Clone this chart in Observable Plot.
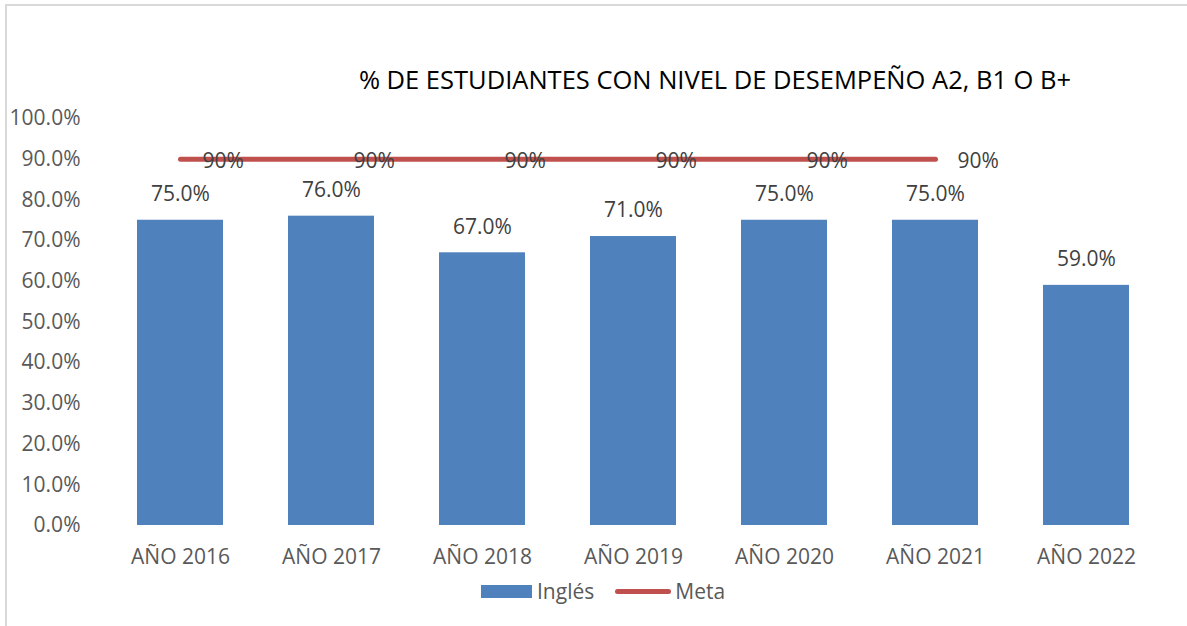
<!DOCTYPE html>
<html>
<head>
<meta charset="utf-8">
<script src="https://cdn.jsdelivr.net/npm/d3@7"></script>
<script src="https://cdn.jsdelivr.net/npm/@observablehq/plot@0.6"></script>
<style>
  html, body { margin: 0; padding: 0; background: #fff; }
  body { width: 1187px; height: 626px; position: relative; overflow: hidden; font-family: "Open Sans", "Liberation Sans", sans-serif; }
  #frame { position: absolute; left: 5px; top: 4px; width: 1300px; height: 700px; border-left: 2px solid #d9d9d9; border-top: 2px solid #d9d9d9; }
  #title { position: absolute; left: 0; width: 1430px; top: 62px; text-align: center; font-size: 25.5px; color: #000; white-space: nowrap; }
  #chart { position: absolute; left: 0; top: 0; }
  #legend { position: absolute; top: 577px; left: 481px; display: flex; align-items: center; font-size: 21px; color: #595959; }
  .sw-bar { width: 51px; height: 13px; background: #4F81BD; margin-right: 5px; }
  .sw-line { width: 56px; height: 5px; border-radius: 3px; background: #C0504D; margin-left: 21px; margin-right: 4px; }
</style>
</head>
<body>
<div id="frame"></div>
<div id="chart"></div>
<div id="title">% DE ESTUDIANTES CON NIVEL DE DESEMPEÑO A2, B1 O B+</div>
<div id="legend"><div class="sw-bar"></div><span>Inglés</span><div class="sw-line"></div><span>Meta</span></div>
<script>
const years = ["AÑO 2016", "AÑO 2017", "AÑO 2018", "AÑO 2019", "AÑO 2020", "AÑO 2021", "AÑO 2022"];
const ingles = [75, 76, 67, 71, 75, 75, 59];
const metaYears = ["AÑO 2016", "AÑO 2017", "AÑO 2018", "AÑO 2019", "AÑO 2020", "AÑO 2021"];
const meta = [90, 90, 90, 90, 90, 90];
const yTicks = [0, 10, 20, 30, 40, 50, 60, 70, 80, 90, 100];

const bars = years.map((y, i) => ({year: y, value: ingles[i]}));
const metaData = metaYears.map((y, i) => ({year: y, value: meta[i]}));

const font = "'Open Sans', 'Liberation Sans', sans-serif";
const chart = Plot.plot({
  width: 1187,
  height: 626,
  marginTop: 118,
  marginBottom: 101,
  marginLeft: 102,
  marginRight: 23,
  style: {fontFamily: font, fontSize: "21px", color: "#595959", background: "transparent"},
  x: {domain: years, paddingInner: 0.43, paddingOuter: 0.215, label: null},
  y: {domain: [0, 100], label: null},
  marks: [
    Plot.axisY({ticks: yTicks, tickSize: 0, tickPadding: 22, tickFormat: d => d.toFixed(1) + "%", fontSize: 21, fill: "#595959", label: null}),
    Plot.axisX({tickSize: 0, tickPadding: 24, fontSize: 21, fill: "#595959", label: null}),
    Plot.barY(bars, {x: "year", y: "value", fill: "#4F81BD"}),
    Plot.text(bars, {x: "year", y: "value", text: d => d.value.toFixed(1) + "%", dy: -26, fontSize: 21, fill: "#404040"}),
    Plot.line(metaData, {x: "year", y: "value", stroke: "#C0504D", strokeWidth: 5, strokeLinecap: "round"}),
    Plot.text(metaData, {x: "year", y: "value", text: d => d.value + "%", textAnchor: "start", dx: 22, dy: 2, fontSize: 21, fill: "#404040"})
  ]
});
document.getElementById("chart").appendChild(chart);
</script>
</body>
</html>
